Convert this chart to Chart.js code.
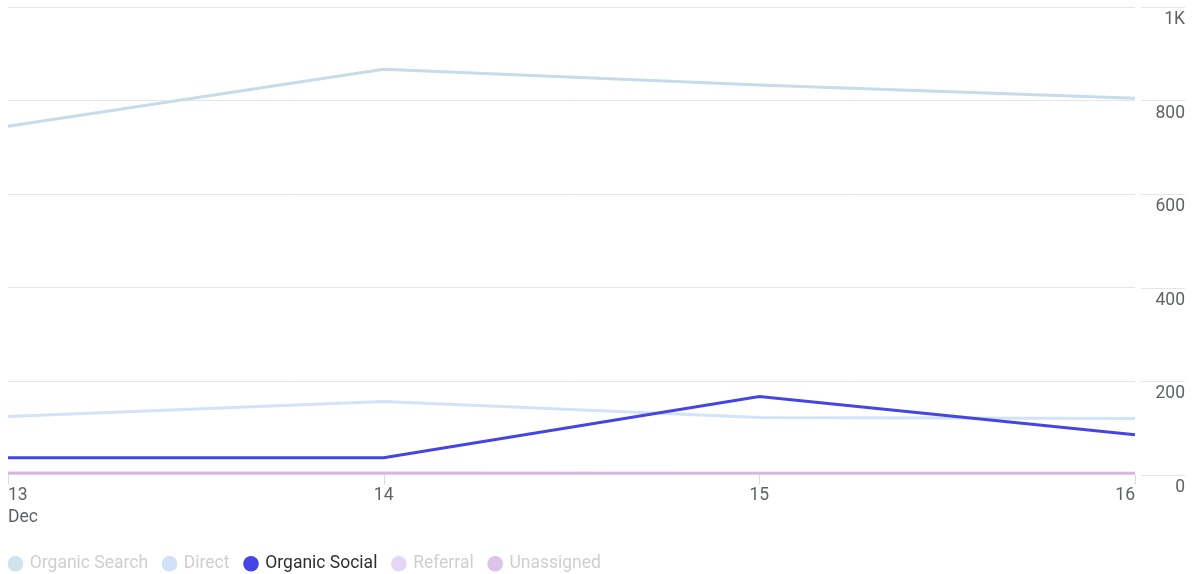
<!DOCTYPE html>
<html><head><meta charset="utf-8">
<script src="https://cdn.jsdelivr.net/npm/chart.js@4.4.1/dist/chart.umd.min.js"></script>
<style>html,body{margin:0;padding:0;background:#fff}#wrap{width:1195px;height:574px}</style>
</head><body><div id="wrap"><canvas id="c" width="1195" height="574"></canvas></div>
<script>
const categories = ['13', '14', '15', '16'];
const xTickLabels = [['13', 'Dec'], ['14'], ['15'], ['16']];
const organicSearch = [745, 867, 833, 805];
const direct = [124, 156, 122, 120];
const organicSocial = [36, 36, 167, 85];
const referral = [4, 4, 3, 3];
const unassigned = [2, 2, 2, 2];
const yTicks = [0, 200, 400, 600, 800, 1000];

const seriesNames = ['Organic Search', 'Direct', 'Organic Social', 'Referral', 'Unassigned'];
const seriesData = [organicSearch, direct, organicSocial, referral, unassigned];
const lineColors = ['#c6dceb', '#d2e3f8', '#4545e6', '#e6d6f6', '#d7b6e2'];
const legendDot = ['#cfe3ee', '#cfe1f7', '#4545e6', '#e6d6f6', '#dcc3e8'];
const legendText = ['#cfcfcf', '#cfcfcf', '#303030', '#cfcfcf', '#cfcfcf'];

const FONT = 'Roboto, "Noto Sans", sans-serif';

const extras = {
  id: 'extras',
  afterLayout(chart) {
    const lg = chart.legend;
    const dx = -14;
    lg.left += dx; lg.right += dx;
    const h = lg.bottom - lg.top;
    lg.top = 539; lg.bottom = 539 + h;
  },
  afterDraw(chart) {
    const ctx = chart.ctx, x = chart.scales.x, y = chart.scales.y, a = chart.chartArea;
    ctx.save();
    ctx.strokeStyle = '#e6e6e6'; ctx.lineWidth = 1;
    yTicks.forEach(v => {
      const py = Math.round(y.getPixelForValue(v)) + 0.5;
      ctx.beginPath(); ctx.moveTo(a.right + 6, py); ctx.lineTo(a.right + 50, py); ctx.stroke();
    });
    ctx.fillStyle = '#5f6368';
    ctx.font = '17.5px ' + FONT;
    ctx.textBaseline = 'top';
    categories.forEach((c, i) => {
      const px = x.getPixelForValue(i);
      ctx.strokeStyle = '#dadada';
      ctx.beginPath(); ctx.moveTo(Math.round(px) + 0.5, a.bottom); ctx.lineTo(Math.round(px) + 0.5, a.bottom + 10); ctx.stroke();
      ctx.textAlign = i === 0 ? 'left' : (i === categories.length - 1 ? 'right' : 'center');
      xTickLabels[i].forEach((t, j) => ctx.fillText(t, px, a.bottom + 12 + j * 22));
    });
    ctx.restore();
  }
};

new Chart(document.getElementById('c'), {
  type: 'line',
  data: {
    labels: categories,
    datasets: seriesNames.map((n, i) => ({
      label: n, data: seriesData[i], borderColor: lineColors[i], backgroundColor: legendDot[i],
      borderWidth: 3, pointRadius: 0, tension: 0, order: 4 - i
    }))
  },
  options: {
    responsive: false, animation: false,
    layout: { padding: { left: 8, right: 10, top: 7, bottom: 0 } },
    scales: {
      x: {
        offset: false,
        grid: { display: false }, border: { display: false },
        ticks: { display: false },
        afterFit(s) { s.height = 56; }
      },
      y: {
        position: 'right', min: 0, max: 1000,
        afterBuildTicks(s) { s.ticks = yTicks.map(v => ({ value: v })); },
        grid: { color: '#e6e6e6', drawTicks: false }, border: { display: false },
        ticks: {
          crossAlign: 'far', labelOffset: 13, color: '#5f6368', padding: 0,
          font: { family: FONT, size: 17.5 },
          callback: v => v >= 1000 ? (v / 1000) + 'K' : String(v)
        },
        afterFit(s) { s.width = 50; s.paddingTop = 0; s.paddingBottom = 0; }
      }
    },
    plugins: {
      tooltip: { enabled: false },
      legend: {
        position: 'bottom', align: 'start',
        labels: {
          usePointStyle: true, pointStyle: 'circle', boxWidth: 11, boxHeight: 11, padding: 16,
          font: { family: FONT, size: 17.5 },
          generateLabels(chart) {
            return seriesNames.map((n, i) => ({
              text: n, fillStyle: legendDot[i], strokeStyle: legendDot[i], lineWidth: 0,
              pointStyle: 'circle', fontColor: legendText[i], datasetIndex: i, hidden: false
            }));
          }
        }
      }
    }
  },
  plugins: [extras]
});
</script></body></html>
